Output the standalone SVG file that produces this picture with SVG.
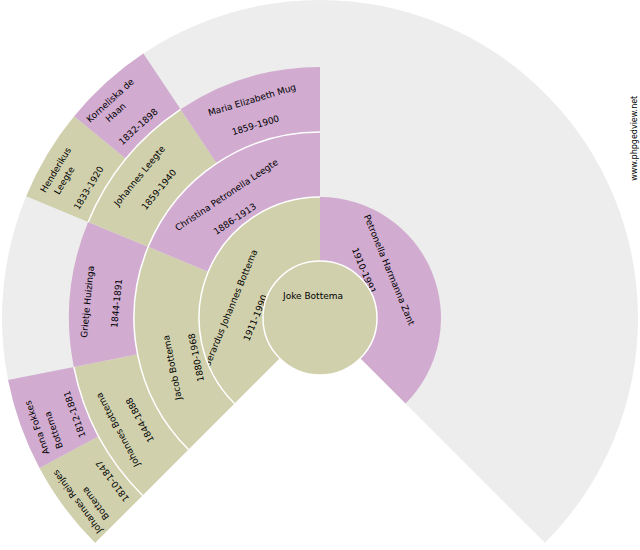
<svg xmlns="http://www.w3.org/2000/svg" width="640" height="550" viewBox="0 0 640 550">
<style>
.m{fill:#D0D0AD}
.f{fill:#D1ABD0}
.bg{fill:#EDEDED}
.gap{fill:none;stroke:#FFFFFF;stroke-width:1.5}
text{font-family:"DejaVu Sans",sans-serif;font-size:9px;fill:#000}
.t{text-anchor:middle;dominant-baseline:central}
.wm{font-size:8px;text-anchor:middle}
</style>
<rect width="640" height="550" fill="#FFFFFF"/>
<path class="bg" d="M320,318 L95.14,542.86 A318,318 0 1 1 544.86,542.86 Z"/>
<g id="n-gerardus"><path class="m" d="M234.44,403.56 A121,121 0 0 1 320,197 L320,261 A57,57 0 0 0 279.69,358.31 Z"/>
<text class="t" transform="translate(230.5,308.5) rotate(-67.5)">Gerardus Johannes Bottema</text>
<text class="t" transform="translate(255.5,318) rotate(-67.5)">1911-1990</text></g>
<g id="n-petronella"><path class="f" d="M320,197 A121,121 0 0 1 405.56,403.56 L360.31,358.31 A57,57 0 0 0 320,261 Z"/>
<text class="t" transform="translate(389.2,270) rotate(67.5)">Petronella Harmanna Zant</text>
<text class="t" transform="translate(363.8,270.8) rotate(67.5)">1910-1991</text></g>
<g id="n-jacob"><path class="m" d="M188.48,449.52 A186,186 0 0 1 148.16,246.82 L208.21,271.7 A121,121 0 0 0 234.44,403.56 Z"/>
<text class="t" transform="translate(172.5,367.5) rotate(-101.25)">Jacob Bottema</text>
<text class="t" transform="translate(196.3,357.5) rotate(-101.25)">1880-1968</text></g>
<g id="n-christina"><path class="f" d="M148.16,246.82 A186,186 0 0 1 320,132 L320,197 A121,121 0 0 0 208.21,271.7 Z"/>
<text class="t" transform="translate(226.7,195) rotate(-33.75)">Christina Petronella Leegte</text>
<text class="t" transform="translate(235,219) rotate(-33.75)">1886-1913</text></g>
<g id="n-johannes-bottema"><path class="m" d="M142.52,495.48 A251,251 0 0 1 73.82,366.97 L137.57,354.29 A186,186 0 0 0 188.48,449.52 Z"/>
<text class="t" transform="translate(118,429.7) rotate(-118.125)">Johannes Bottema</text>
<text class="t" transform="translate(140,420) rotate(-118.125)">1844-1888</text></g>
<g id="n-grietje"><path class="f" d="M73.82,366.97 A251,251 0 0 1 88.11,221.95 L148.16,246.82 A186,186 0 0 0 137.57,354.29 Z"/>
<text class="t" transform="translate(87.5,301.7) rotate(-84.375)">Grietje Huizinga</text>
<text class="t" transform="translate(116.7,303.3) rotate(-84.375)">1844-1891</text></g>
<g id="n-johannes-leegte"><path class="m" d="M88.11,221.95 A251,251 0 0 1 180.55,109.3 L216.66,163.35 A186,186 0 0 0 148.16,246.82 Z"/>
<text class="t" transform="translate(139.5,176) rotate(-50.625)">Johannes Leegte</text>
<text class="t" transform="translate(159,189.7) rotate(-50.625)">1859-1940</text></g>
<g id="n-maria"><path class="f" d="M180.55,109.3 A251,251 0 0 1 320,67 L320,132 A186,186 0 0 0 216.66,163.35 Z"/>
<text class="t" transform="translate(252,100) rotate(-16.875)">Maria Elizabeth Mug</text>
<text class="t" transform="translate(255.5,125.3) rotate(-16.875)">1859-1900</text></g>
<g id="n-johannes-reinjes"><path class="m" d="M95.14,542.86 A318,318 0 0 1 39.55,467.91 L98.64,436.32 A251,251 0 0 0 142.52,495.48 Z"/>
<text class="t" transform="translate(77.5,501.7) rotate(-126.56)">Johannes Reinjes</text>
<text class="t" transform="translate(95.5,503.3) rotate(-126.56)">Bottema</text>
<text class="t" transform="translate(112.5,480.8) rotate(-126.56)">1810-1847</text></g>
<g id="n-anna"><path class="f" d="M39.55,467.91 A318,318 0 0 1 8.11,380.04 L73.82,366.97 A251,251 0 0 0 98.64,436.32 Z"/>
<text class="t" transform="translate(37.2,427.5) rotate(-109.69)">Anna Fokkes</text>
<text class="t" transform="translate(53.8,430) rotate(-109.69)">Bottema</text>
<text class="t" transform="translate(74.7,414.2) rotate(-109.69)">1812-1881</text></g>
<g id="n-henderikus"><path class="m" d="M26.21,196.31 A318,318 0 0 1 74.18,116.26 L125.97,158.77 A251,251 0 0 0 88.11,221.95 Z"/>
<text class="t" transform="translate(55.8,170) rotate(-59.06)">Henderikus</text>
<text class="t" transform="translate(64.3,180.5) rotate(-59.06)">Leegte</text>
<text class="t" transform="translate(88.8,188) rotate(-59.06)">1833-1920</text></g>
<g id="n-korneliska"><path class="f" d="M74.18,116.26 A318,318 0 0 1 143.33,53.59 L180.55,109.3 A251,251 0 0 0 125.97,158.77 Z"/>
<text class="t" transform="translate(110.3,100.5) rotate(-42.19)">Korneliska de</text>
<text class="t" transform="translate(115.8,112.5) rotate(-42.19)">Haan</text>
<text class="t" transform="translate(138.3,126.7) rotate(-42.19)">1832-1898</text></g>
<g id="connectors">
<path class="gap" d="M234.44,403.56 A121,121 0 0 1 320,197"/>
<path class="gap" d="M188.48,449.52 A186,186 0 0 1 320,132"/>
<path class="gap" d="M142.52,495.48 A251,251 0 0 1 73.82,366.97"/>
<path class="gap" d="M88.11,221.95 A251,251 0 0 1 180.55,109.3"/>
</g>
<g id="n-joke"><circle cx="320" cy="318" r="57" class="m" stroke="#FFFFFF" stroke-width="1.5"/>
<text class="t" x="313" y="296">Joke Bottema</text></g>
<text class="wm" transform="translate(636.5,138.3) rotate(-90)">www.phpgedview.net</text>
</svg>
